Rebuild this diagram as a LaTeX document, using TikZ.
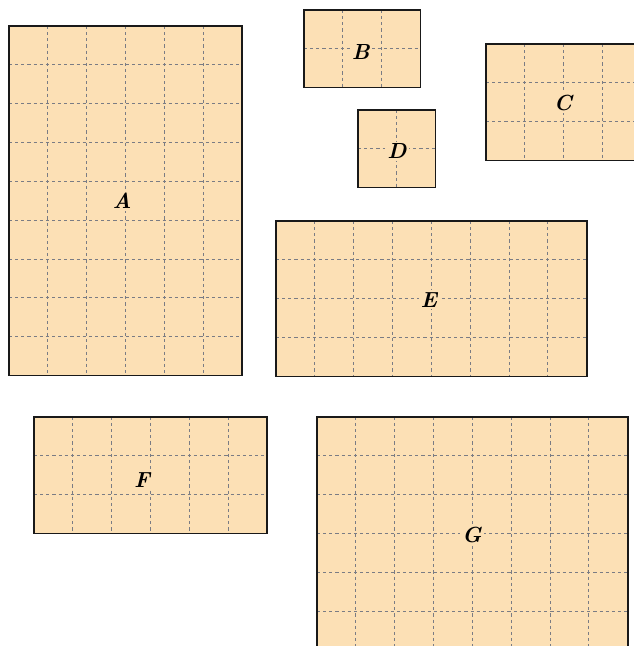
\documentclass[tikz,border=0pt]{standalone}
\usepackage{tikz}
\usetikzlibrary{positioning}

\definecolor{tilefill}{RGB}{252,224,181}
\definecolor{gridgray}{RGB}{122,124,132}

\tikzset{
  tile/.style={draw=black!90, line width=1.2pt},
  tilegrid/.style={draw=gridgray, line width=0.6pt, dash pattern=on 2.3pt off 2.2pt},
  tilelabel/.style={fill=tilefill, inner sep=1.5pt, font=\fontsize{16}{18}\selectfont\bfseries\itshape}
}

% \tilerect{name}{x}{y}{w}{h}{label position}: top left corner at (x,-y), w by h squares
\newcommand{\tilerect}[6]{%
  \fill[tilefill] (#2,-#3) rectangle +(#4,-#5);
  \foreach \i in {1,...,\numexpr#4-1\relax}
    \draw[tilegrid] (#2+\i,-#3) -- +(0,-#5);
  \foreach \j in {1,...,\numexpr#5-1\relax}
    \draw[tilegrid] (#2,-#3-\j) -- +(#4,0);
  \draw[tile] (#2,-#3) rectangle +(#4,-#5);
  \node[tilelabel] (#1) at (#6) {#1};
}

\begin{document}
\begin{tikzpicture}[x=1cm, y=1cm]
\clip (0,0) rectangle (16.32,-16.63);
\useasboundingbox (0,0) rectangle (16.32,-16.63);

\tilerect{A}{0.232}{0.669}{6}{9}{3.14,-5.17}
\tilerect{B}{7.825}{0.257}{3}{2}{9.29,-1.34}
\tilerect{C}{12.51}{1.133}{4}{3}{14.49,-2.65}
\tilerect{D}{9.215}{2.831}{2}{2}{10.22,-3.89}
\tilerect{E}{7.104}{5.689}{8}{4}{11.04,-7.72}
\tilerect{F}{0.875}{10.73}{6}{3}{3.66,-12.36}
\tilerect{G}{8.16}{10.73}{8}{6}{12.15,-13.77}

\end{tikzpicture}
\end{document}
